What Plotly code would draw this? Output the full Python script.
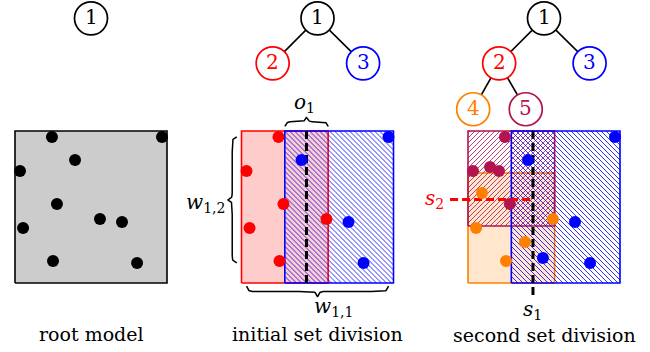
import numpy as np
import plotly.graph_objects as go

# ---------------------------------------------------------------------------
# Data (unit square: u to the right, v upwards)
# ---------------------------------------------------------------------------
# observations of the root model
pts_u = [0.243, 0.967, 0.395, 0.033, 0.276, 0.559, 0.704, 0.053, 0.250, 0.803]
pts_v = [0.961, 0.961, 0.809, 0.737, 0.520, 0.421, 0.401, 0.362, 0.145, 0.132]
# child node (2 or 3) receiving each observation after the first division
split1 = [2, 3, 3, 2, 2, 2, 3, 2, 2, 3]
# observations added before the second division
extra_u = [0.145, 0.204, 0.092, 0.375, 0.493]
extra_v = [0.763, 0.737, 0.592, 0.270, 0.164]
# node (3, 4 or 5) receiving each of the 15 observations after the second division
split2 = [5, 3, 3, 5, 5, 4, 3, 4, 4, 3, 5, 5, 4, 4, 3]

# regions of the nodes: [u0, u1, v0, v1]
region1 = [0.0, 1.0, 0.0, 1.0]
region2 = [0.0, 0.570, 0.0, 1.0]
region3 = [0.285, 1.0, 0.0, 1.0]
region4 = [0.0, 0.570, 0.0, 0.724]
region5 = [0.0, 0.570, 0.375, 1.0]

# tree layout: node -> (u, v)
tree_pos = {1: (0.50, 1.741), 2: (0.205, 1.445), 3: (0.80, 1.445),
            4: (0.034, 1.143), 5: (0.38, 1.143)}
tree_edges_1 = [(1, 2), (1, 3)]
tree_edges_2 = [(1, 2), (1, 3), (2, 4), (2, 5)]

captions = ["root model", "initial set division", "second set division"]

# split positions: middle of the overlaps
s1 = (region3[0] + region2[1]) / 2
s2 = (region5[2] + region4[3]) / 2

# ---------------------------------------------------------------------------
# Styling
# ---------------------------------------------------------------------------
W, H = 650, 352
PX = 152.0                       # pixels per unit of the square
PANEL_LEFT = [15.0, 241.5, 468.0]
SQUARE_BOTTOM = 283.0
FONT = "DejaVu Serif"
HATCH_STEP = 5.0 / PX

BLACK = "#000000"
RED = "#ff0000"
BLUE = "#0000ff"
ORANGE = "#ff8000"
PURPLE = "#b3134f"
node_color = {1: BLACK, 2: RED, 3: BLUE, 4: ORANGE, 5: PURPLE}

fig = go.Figure()
AX = ["x", "x2", "x3"]


def line(ax, xs, ys, color=BLACK, width=1.6, dash=None):
    fig.add_trace(go.Scatter(x=xs, y=ys, mode="lines", xaxis=ax, yaxis="y",
                             line=dict(color=color, width=width, dash=dash),
                             showlegend=False, hoverinfo="skip"))


def hatch_lines(r, direction):
    """45-degree hatch segments clipped to the region r."""
    u0, u1, v0, v1 = r
    xs, ys = [], []
    if direction == "\\":            # lines u + v = c
        lo, hi = u0 + v0, u1 + v1
    else:                            # lines v - u = c
        lo, hi = v0 - u1, v1 - u0
    c = np.ceil(lo / HATCH_STEP) * HATCH_STEP
    while c < hi:
        if direction == "\\":
            ua, ub = max(u0, c - v1), min(u1, c - v0)
            if ub > ua:
                xs += [ua, ub, None]
                ys += [c - ua, c - ub, None]
        else:
            ua, ub = max(u0, v0 - c), min(u1, v1 - c)
            if ub > ua:
                xs += [ua, ub, None]
                ys += [ua + c, ub + c, None]
        c += HATCH_STEP
    return xs, ys


def rect(ax, r, edge, fill=None, pattern=None):
    u0, u1, v0, v1 = r
    bx = [u0, u1, u1, u0, u0]
    by = [v0, v0, v1, v1, v0]
    if fill:
        fig.add_trace(go.Scatter(x=bx, y=by, mode="none", fill="toself",
                                 fillcolor=fill, xaxis=ax, yaxis="y",
                                 showlegend=False, hoverinfo="skip"))
    if pattern:
        hx, hy = hatch_lines(r, pattern)
        line(ax, hx, hy, color=edge, width=0.8)
    line(ax, bx, by, color=edge, width=1.6)


def dots(ax, us, vs, color):
    fig.add_trace(go.Scatter(x=us, y=vs, mode="markers", xaxis=ax, yaxis="y",
                             marker=dict(size=12, color=color, line=dict(width=0)),
                             showlegend=False, hoverinfo="skip"))


def brace(a, b, base, depth, beta=140.0, n=120):
    """Curly brace running from a to b, tip offset by depth from base."""
    half = (b - a) / 2
    s = np.linspace(0, half, n)
    h = 1 / (1 + np.exp(-beta * s)) + 1 / (1 + np.exp(-beta * (s - half))) - 0.5
    along = np.concatenate([a + s, a + half + s])
    off = np.concatenate([h, h[::-1]])
    return along, base + depth * off


def tree(ax, nodes, edges):
    for p, c in edges:
        line(ax, [tree_pos[p][0], tree_pos[c][0]],
             [tree_pos[p][1], tree_pos[c][1]], width=1.6)
    for n in nodes:
        col = node_color[n]
        fig.add_trace(go.Scatter(
            x=[tree_pos[n][0]], y=[tree_pos[n][1]], mode="markers",
            xaxis=ax, yaxis="y",
            marker=dict(size=33, color="white", line=dict(color=col, width=1.7)),
            showlegend=False, hoverinfo="skip"))
        fig.add_annotation(x=tree_pos[n][0], y=tree_pos[n][1], xref=ax, yref="y",
                           text=str(n), showarrow=False, yshift=1,
                           font=dict(family=FONT, size=20, color=col))


def label(ax, u, v, text, color=BLACK, size=20, xanchor="center"):
    fig.add_annotation(x=u, y=v, xref=ax, yref="y", text=text, showarrow=False,
                       xanchor=xanchor, yanchor="middle",
                       font=dict(family=FONT, size=size, color=color))


# ---------------- root model ----------------
rect("x", region1, BLACK, fill="#cccccc")
dots("x", pts_u, pts_v, BLACK)
tree("x", [1], [])
label("x", 0.5, -0.335, captions[0], size=19)

# ---------------- initial set division ----------------
rect("x2", region2, RED, fill="#ffcccc")
rect("x2", region3, BLUE, pattern="\\")
line("x2", [s1, s1], [region2[3], region2[2]], width=3, dash="8px,4px")
for g, col in [(2, RED), (3, BLUE)]:
    idx = [i for i, k in enumerate(split1) if k == g]
    dots("x2", [pts_u[i] for i in idx], [pts_v[i] for i in idx], col)
tree("x2", [1, 2, 3], tree_edges_1)

bx, by = brace(region3[0], region2[1], 1.03, 0.062)
line("x2", bx, by, width=1.5)
label("x2", s1 - 0.01, 1.185, "<i>o</i><sub>1</sub>")

bx, by = brace(min(pts_u), max(pts_u), -0.02, -0.072)
line("x2", bx, by, width=1.5)
label("x2", 0.465, -0.158, "<i>w</i><sub>1,1</sub>", xanchor="left")

bv, bu = brace(min(pts_v), max(pts_v), -0.031, -0.06)
line("x2", bu, bv, width=1.5)
label("x2", -0.095, 0.525, "<i>w</i><sub>1,2</sub>", xanchor="right")

label("x2", 0.5, -0.335, captions[1], size=19)

# ---------------- second set division ----------------
all_u = pts_u + extra_u
all_v = pts_v + extra_v
rect("x3", region4, ORANGE, fill="#ffe6cc")
rect("x3", region5, PURPLE, pattern="/")
rect("x3", region3, BLUE, pattern="\\")
line("x3", [s1, s1], [region3[3], -0.10], width=3, dash="8px,4px")
line("x3", [-0.118, s1], [s2, s2], color=RED, width=3, dash="8px,4px")
for g, col in [(4, ORANGE), (3, BLUE), (5, PURPLE)]:
    idx = [i for i, k in enumerate(split2) if k == g]
    dots("x3", [all_u[i] for i in idx], [all_v[i] for i in idx], col)
tree("x3", [1, 2, 3, 4, 5], tree_edges_2)

label("x3", -0.148, s2, "<i>s</i><sub>2</sub>", color=RED, xanchor="right")
label("x3", s1, -0.18, "<i>s</i><sub>1</sub>")
label("x3", 0.5, -0.345, captions[2], size=19)

# ---------------------------------------------------------------------------
# Layout: three overlaid x axes sharing one y axis, equal scale in u and v
# ---------------------------------------------------------------------------
yr = [-(H - SQUARE_BOTTOM) / PX, SQUARE_BOTTOM / PX]
layout_axes = {}
for k, ax in enumerate(AX):
    key = "xaxis" if k == 0 else f"xaxis{k + 1}"
    cfg = dict(range=[-PANEL_LEFT[k] / PX, (W - PANEL_LEFT[k]) / PX],
               visible=False, domain=[0, 1], fixedrange=True)
    if k > 0:
        cfg["overlaying"] = "x"
    layout_axes[key] = cfg

fig.update_layout(
    width=W, height=H, margin=dict(l=0, r=0, t=0, b=0),
    paper_bgcolor="white", plot_bgcolor="white",
    showlegend=False,
    font=dict(family=FONT),
    yaxis=dict(range=yr, visible=False, fixedrange=True),
    **layout_axes,
)

fig.write_html("out.html")
